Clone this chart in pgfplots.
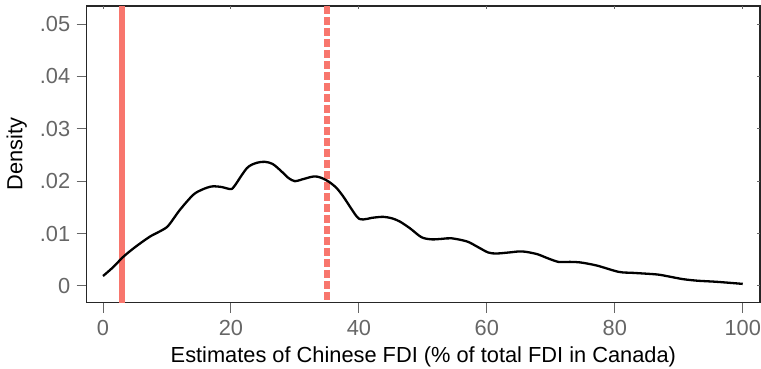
\documentclass[border=0pt]{standalone}
\usepackage{pgfplots}
\pgfplotsset{compat=1.18}
\usepackage{fontspec}
\setmainfont{Liberation Sans}
\definecolor{redl}{HTML}{F8766D}
\definecolor{tickgrey}{HTML}{666666}
\begin{document}
\fontsize{21.8bp}{25bp}\selectfont
\begin{tikzpicture}
\pgfplotsset{commonax/.style={
  at={(0,0)}, anchor=south west, scale only axis,
  width=673.3bp, height=296.7bp,
  xmin=-2.55, xmax=102.7, ymin=-0.00319, ymax=0.05344,
  xtick={0,20,40,60,80,100}, ytick={0,0.01,0.02,0.03,0.04,0.05},
  scaled y ticks=false,
}}
\begin{axis}[commonax,
  yticklabels={0,.01,.02,.03,.04,.05},
  tick align=outside, xtick pos=bottom, ytick pos=left, major tick length=10bp,
  tick style={tickgrey, line width=1bp},
  axis line style={line width=1.3bp, black!85},
  tick label style={tickgrey, font=\fontsize{21.8bp}{25bp}\selectfont},
  yticklabel style={xshift=1bp},
  /pgf/number format/assume math mode=true,
  xlabel={Estimates of Chinese FDI (\% of total FDI in Canada)},
  ylabel={Density},
  every axis x label/.style={at={(axis description cs:0.5,-0.2)}, anchor=base, font=\fontsize{21.8bp}{25bp}\selectfont},
  every axis y label/.style={at={(axis description cs:-0.104,0.5)}, rotate=90, anchor=center, font=\fontsize{21.8bp}{25bp}\selectfont},
]
\addplot[redl, line width=6bp, line cap=butt] coordinates {(3,-0.00319) (3,0.05344)};
\addplot[redl, line width=6bp, line cap=butt, dash pattern=on 8bp off 3bp] coordinates {(35,0.05344) (35,-0.00319)};
\addplot[black, line width=2.3bp, smooth, tension=0.5] coordinates {
(0,0.0019)(1.5,0.0035)(3.2,0.0056)(5,0.0074)(7.3,0.0094)(9,0.0105)(10.2,0.0115)(12,0.0145)(14.1,0.0174)(15.5,0.0184)(17,0.0190)(18.5,0.0189)(19.9,0.0185)(20.5,0.0190)(22.5,0.0225)(24,0.0235)(25.3,0.0237)(26.5,0.0233)(27.7,0.0221)(29,0.0206)(30,0.0200)(31,0.0203)(32.9,0.0209)(34,0.0207)(35.3,0.0199)(36.5,0.0187)(37.6,0.0170)(39.7,0.0132)(40.7,0.0127)(42,0.0130)(43.8,0.0132)(45.2,0.0129)(46.4,0.0123)(48,0.0110)(49.8,0.0093)(51.4,0.0089)(53,0.0090)(54.5,0.0091)(56.9,0.0085)(58.5,0.0075)(60.2,0.0064)(61.5,0.0062)(63.5,0.0064)(65.5,0.0066)(67.8,0.0061)(69.5,0.0053)(71.2,0.0046)(73,0.0046)(74.6,0.0045)(77.2,0.0039)(80.6,0.0027)(82.9,0.0025)(86.6,0.0022)(88.5,0.0018)(90.7,0.0013)(93,0.0010)(95.9,0.0008)(100,0.0004)
};
\end{axis}
\begin{axis}[commonax,
  xticklabels={}, yticklabels={},
  tick align=inside, xtick pos=top, ytick pos=right, major tick length=3bp,
  tick style={tickgrey, line width=1bp},
  axis line style={draw=none},
]
\end{axis}
\pgfresetboundingbox
\path (-86.7bp,-66.3bp) rectangle (674.3bp,302.7bp);
\end{tikzpicture}
\end{document}
